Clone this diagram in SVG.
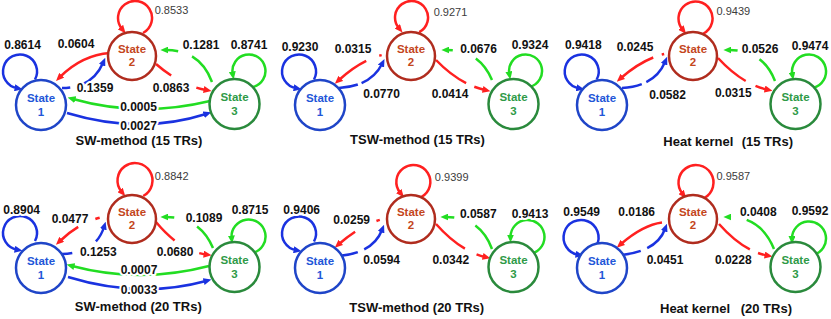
<svg xmlns="http://www.w3.org/2000/svg" width="831" height="319" viewBox="0 0 831 319">
<style>
.e{fill:none;stroke-width:2.5}
.eb{stroke:#1a32e0;marker-end:url(#ab)}
.er{stroke:#ff2020;marker-end:url(#ar)}
.eg{stroke:#22dd22;marker-end:url(#ag)}
circle{fill:#fff;stroke-width:2.5}
.n1 circle{stroke:#1f45c8}.n1 text{fill:#2256d8}
.n2 circle{stroke:#b02c1e}.n2 text{fill:#c4461c}
.n3 circle{stroke:#2a8a3c}.n3 text{fill:#2f9a47}
.st{font-family:"Liberation Sans",Arial,sans-serif;font-weight:bold;font-size:11.5px;text-anchor:middle}
.lbl{font-family:"Liberation Sans",Arial,sans-serif;font-weight:bold;font-size:12px;fill:#111;text-anchor:middle;stroke:#fff;stroke-width:4;stroke-linejoin:round;paint-order:stroke}
.sl{font-family:"Liberation Sans",Arial,sans-serif;font-size:11px;fill:#3c3c3c;text-anchor:middle}
.ttl{font-family:"Liberation Sans",Arial,sans-serif;font-weight:bold;font-size:13px;fill:#111;text-anchor:middle}
.ttls{font-family:"Liberation Sans",Arial,sans-serif;font-weight:bold;font-size:13px;fill:#111}
</style>
<defs>
<marker id="ab" viewBox="0 0 10 10" refX="3" refY="5" markerWidth="8" markerHeight="7" markerUnits="userSpaceOnUse" orient="auto" preserveAspectRatio="none"><path d="M0,0 L10,5 L0,10 z" fill="#1a32e0"/></marker>
<marker id="ar" viewBox="0 0 10 10" refX="3" refY="5" markerWidth="8" markerHeight="7" markerUnits="userSpaceOnUse" orient="auto" preserveAspectRatio="none"><path d="M0,0 L10,5 L0,10 z" fill="#ff2020"/></marker>
<marker id="ag" viewBox="0 0 10 10" refX="3" refY="5" markerWidth="8" markerHeight="7" markerUnits="userSpaceOnUse" orient="auto" preserveAspectRatio="none"><path d="M0,0 L10,5 L0,10 z" fill="#22dd22"/></marker>
</defs>
<rect width="831" height="319" fill="#fff"/>

<!-- Panel 1: SW-method 15 TRs -->
<g id="sw15">
<g id="sw15-connectors">
<path class="e eb" d="M35,79.5 A17,17 0 1 0 17,88.2"/>
<path class="e er" d="M143,33 A17,17 0 1 0 122,28.9"/>
<path class="e eg" d="M253.3,86.9 A16.5,16.5 0 1 0 232.7,73.9"/>
<path class="e er" d="M110,53 Q82,55 60,77"/>
<path class="e eb" d="M62,88 Q92,88 103,63" stroke-dasharray="8 13 100"/>
<path class="e er" d="M156,64 Q180,85 206,90" stroke-dasharray="19 28 100"/>
<path class="e eg" d="M212,82 Q200,50 166,50" stroke-dasharray="33 15 100"/>
<path class="e eg" d="M210,101 Q140,118 73,99"/>
<path class="e eb" d="M67,113 Q140,135 206,114"/>
</g>
<g id="sw15-s1" class="n1"><circle cx="41" cy="105" r="25"/><text class="st" x="41" y="101.5">State</text><text class="st" x="41" y="115.5">1</text></g>
<g id="sw15-s2" class="n2"><circle cx="132" cy="56" r="24"/><text class="st" x="132" y="52.5">State</text><text class="st" x="132" y="65.5">2</text></g>
<g id="sw15-s3" class="n3"><circle cx="234.5" cy="104" r="25"/><text class="st" x="234.5" y="101">State</text><text class="st" x="234.5" y="115">3</text></g>
<g id="sw15-labels">
<text class="lbl" x="22.5" y="49">0.8614</text>
<text class="lbl" x="76" y="48">0.0604</text>
<text class="lbl" x="95" y="92">0.1359</text>
<text class="sl" x="171.5" y="14">0.8533</text>
<text class="lbl" x="201" y="49">0.1281</text>
<text class="lbl" x="249" y="49">0.8741</text>
<text class="lbl" x="171" y="92">0.0863</text>
<text class="lbl" x="138.5" y="111">0.0005</text>
<text class="lbl" x="138.5" y="130">0.0027</text>
<text class="ttl" x="139" y="145">SW-method (15 TRs)</text>
</g>
</g>

<!-- Panel 2: TSW-method 15 TRs -->
<g id="tsw15" transform="translate(279,0)">
<g id="tsw15-connectors">
<path class="e eb" d="M35,79.5 A17,17 0 1 0 17,88.2"/>
<path class="e er" d="M140.2,32.1 A16.5,16.5 0 1 0 119.9,28.1"/>
<path class="e eg" d="M250.8,86.9 A16.5,16.5 0 1 0 230.3,73.9"/>
<path class="e er" d="M108,54 Q84,58 60,80" stroke-dasharray="0 5.5 2.5 14 200"/>
<path class="e eb" d="M60,88 Q92,86 103,64" stroke-dasharray="19 4 100"/>
<path class="e er" d="M157,60 Q180,84 206,90" stroke-dasharray="38 9 100"/>
<path class="e eg" d="M213,80 Q200,50 168,50" stroke-dasharray="27 25 100"/>
</g>
<g id="tsw15-s1" class="n1"><circle cx="41" cy="105" r="25"/><text class="st" x="41" y="101.5">State</text><text class="st" x="41" y="115.5">1</text></g>
<g id="tsw15-s2" class="n2"><circle cx="132" cy="56" r="24"/><text class="st" x="132" y="52.5">State</text><text class="st" x="132" y="65.5">2</text></g>
<g id="tsw15-s3" class="n3"><circle cx="234.5" cy="104" r="25"/><text class="st" x="234.5" y="101">State</text><text class="st" x="234.5" y="115">3</text></g>
<g id="tsw15-labels">
<text class="lbl" x="21" y="51">0.9230</text>
<text class="lbl" x="74" y="52.5">0.0315</text>
<text class="sl" x="171.5" y="15.5">0.9271</text>
<text class="lbl" x="199.5" y="52.5">0.0676</text>
<text class="lbl" x="251" y="49">0.9324</text>
<text class="lbl" x="102.5" y="98">0.0770</text>
<text class="lbl" x="171" y="98">0.0414</text>
<text class="ttl" x="138.5" y="144">TSW-method (15 TRs)</text>
</g>
</g>

<!-- Panel 3: Heat kernel 15 TRs -->
<g id="heat15" transform="translate(561,0)">
<g id="heat15-connectors">
<path class="e eb" d="M35.7,79.5 A17,17 0 1 0 17.7,88.2"/>
<path class="e er" d="M142.5,33.5 A17,17 0 1 0 121.5,29.4"/>
<path class="e eg" d="M252.4,87.9 A17,17 0 1 0 231.3,74.5"/>
<path class="e er" d="M108,53 Q84,57 60,78" stroke-dasharray="0 5 2.5 9 200"/>
<path class="e eb" d="M61,88 Q94,86 104,62" stroke-dasharray="20 5 100"/>
<path class="e er" d="M157,58 Q181,84 206,89.5" stroke-dasharray="36 11 100"/>
<path class="e eg" d="M214,81 Q202,50 168,50" stroke-dasharray="27 24 100"/>
</g>
<g id="heat15-s1" class="n1"><circle cx="41" cy="105" r="25"/><text class="st" x="41" y="101.5">State</text><text class="st" x="41" y="115.5">1</text></g>
<g id="heat15-s2" class="n2"><circle cx="132" cy="56" r="24"/><text class="st" x="132" y="52.5">State</text><text class="st" x="132" y="65.5">2</text></g>
<g id="heat15-s3" class="n3"><circle cx="234.5" cy="104" r="25"/><text class="st" x="234.5" y="101">State</text><text class="st" x="234.5" y="115">3</text></g>
<g id="heat15-labels">
<text class="lbl" x="22.3" y="48.5">0.9418</text>
<text class="lbl" x="74" y="51.3">0.0245</text>
<text class="sl" x="172.3" y="15">0.9439</text>
<text class="lbl" x="199" y="52.5">0.0526</text>
<text class="lbl" x="249" y="50">0.9474</text>
<text class="lbl" x="106.5" y="98.8">0.0582</text>
<text class="lbl" x="172.3" y="97.3">0.0315</text>
<text class="ttls" x="102.3" y="146">Heat kernel <tspan x="180.7">(15 TRs)</tspan></text>
</g>
</g>

<!-- Panel 4: SW-method 20 TRs -->
<g id="sw20" transform="translate(0,163)">
<g id="sw20-connectors">
<path class="e eb" d="M35,78 A17,17 0 1 0 17,86.7"/>
<path class="e er" d="M143.2,33 A17.5,17.5 0 1 0 121.6,28.8"/>
<path class="e eg" d="M252.9,89.9 A17,17 0 1 0 231.6,75"/>
<path class="e er" d="M108,53 Q82,57 60,78" stroke-dasharray="0 8.5 4.5 19 200"/>
<path class="e eb" d="M62,91 Q96,90 104,64" stroke-dasharray="10 27 100"/>
<path class="e er" d="M156,59 Q180,88 206,91.5" stroke-dasharray="26 28 100"/>
<path class="e eg" d="M213,85 Q200,54 166,54" stroke-dasharray="27 25 100"/>
<path class="e eg" d="M209,103 Q140,121 72,103"/>
<path class="e eb" d="M68,114 Q140,136 206,118"/>
</g>
<g id="sw20-s1" class="n1"><circle cx="41" cy="105" r="25"/><text class="st" x="41" y="101.5">State</text><text class="st" x="41" y="115.5">1</text></g>
<g id="sw20-s2" class="n2"><circle cx="132" cy="56" r="24"/><text class="st" x="132" y="52.5">State</text><text class="st" x="132" y="65.5">2</text></g>
<g id="sw20-s3" class="n3"><circle cx="234.5" cy="104" r="25"/><text class="st" x="234.5" y="101">State</text><text class="st" x="234.5" y="115">3</text></g>
<g id="sw20-labels">
<text class="lbl" x="21.7" y="50.8">0.8904</text>
<text class="lbl" x="70" y="59.6">0.0477</text>
<text class="sl" x="171.7" y="17">0.8842</text>
<text class="lbl" x="204" y="59.3">0.1089</text>
<text class="lbl" x="250" y="50.8">0.8715</text>
<text class="lbl" x="98.3" y="93">0.1253</text>
<text class="lbl" x="175" y="93">0.0680</text>
<text class="lbl" x="139" y="111.3">0.0007</text>
<text class="lbl" x="139" y="131.3">0.0033</text>
<text class="ttl" x="138.3" y="148">SW-method (20 TRs)</text>
</g>
</g>

<!-- Panel 5: TSW-method 20 TRs -->
<g id="tsw20" transform="translate(279,163)">
<g id="tsw20-connectors">
<path class="e eb" d="M35,78.5 A17,17 0 1 0 17,87.2"/>
<path class="e er" d="M142.3,34 A17,17 0 1 0 121.3,29.9"/>
<path class="e eg" d="M252.9,90.4 A17,17 0 1 0 231.5,74"/>
<path class="e er" d="M108,55 Q84,60 60,81" stroke-dasharray="0 7.5 3.5 24 200"/>
<path class="e eb" d="M60,93 Q94,90 103,67" stroke-dasharray="19 7 100"/>
<path class="e er" d="M157,61 Q181,88 206,94" stroke-dasharray="38 13 100"/>
<path class="e eg" d="M213,86 Q201,54 167,54" stroke-dasharray="29 23 100"/>
</g>
<g id="tsw20-s1" class="n1"><circle cx="41" cy="105" r="25"/><text class="st" x="41" y="101.5">State</text><text class="st" x="41" y="115.5">1</text></g>
<g id="tsw20-s2" class="n2"><circle cx="132" cy="56" r="24"/><text class="st" x="132" y="52.5">State</text><text class="st" x="132" y="65.5">2</text></g>
<g id="tsw20-s3" class="n3"><circle cx="234.5" cy="104" r="25"/><text class="st" x="234.5" y="101">State</text><text class="st" x="234.5" y="115">3</text></g>
<g id="tsw20-labels">
<text class="lbl" x="22.7" y="51">0.9406</text>
<text class="lbl" x="72.7" y="61.3">0.0259</text>
<text class="sl" x="172.7" y="17.5">0.9399</text>
<text class="lbl" x="199.3" y="54.6">0.0587</text>
<text class="lbl" x="251" y="54.6">0.9413</text>
<text class="lbl" x="102.7" y="100.8">0.0594</text>
<text class="lbl" x="171.8" y="100.8">0.0342</text>
<text class="ttl" x="137.7" y="148.5">TSW-method (20 TRs)</text>
</g>
</g>

<!-- Panel 6: Heat kernel 20 TRs -->
<g id="heat20" transform="translate(561,163)">
<g id="heat20-connectors">
<path class="e eb" d="M35.5,82.7 A17.5,17.5 0 1 0 17,91.7"/>
<path class="e er" d="M143.2,35 A17.5,17.5 0 1 0 121.6,30.8"/>
<path class="e eg" d="M252.4,91.9 A17,17 0 1 0 231,75.5"/>
<path class="e er" d="M101,59.5 Q82,62 60,81"/>
<path class="e eb" d="M61,92 Q96,88 104,66" stroke-dasharray="19 7 100"/>
<path class="e er" d="M158,61 Q182,88 206,92.5" stroke-dasharray="40 9 100"/>
<path class="e eg" d="M213,86 Q200,54 168,54" stroke-dasharray="41 16 100"/>
</g>
<g id="heat20-s1" class="n1"><circle cx="41" cy="105" r="25"/><text class="st" x="41" y="101.5">State</text><text class="st" x="41" y="115.5">1</text></g>
<g id="heat20-s2" class="n2"><circle cx="132" cy="56" r="24"/><text class="st" x="132" y="52.5">State</text><text class="st" x="132" y="65.5">2</text></g>
<g id="heat20-s3" class="n3"><circle cx="234.5" cy="104" r="25"/><text class="st" x="234.5" y="101">State</text><text class="st" x="234.5" y="115">3</text></g>
<g id="heat20-labels">
<text class="lbl" x="20.7" y="53">0.9549</text>
<text class="lbl" x="75.7" y="53">0.0186</text>
<text class="sl" x="172.3" y="17">0.9587</text>
<text class="lbl" x="197.3" y="53">0.0408</text>
<text class="lbl" x="249" y="51.5">0.9592</text>
<text class="lbl" x="104" y="101.3">0.0451</text>
<text class="lbl" x="172.3" y="101.3">0.0228</text>
<text class="ttls" x="99" y="150">Heat kernel <tspan x="179.7">(20 TRs)</tspan></text>
</g>
</g>
</svg>
